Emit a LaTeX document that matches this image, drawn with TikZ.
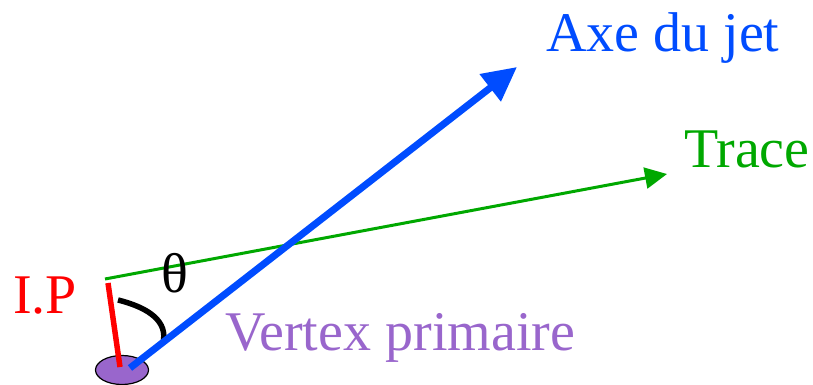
\documentclass[tikz,border=0pt]{standalone}
\usepackage{fontspec}
\setmainfont{Liberation Serif}
\usepackage{tikz}
\usetikzlibrary{arrows.meta,shapes.geometric}
\definecolor{Jline}{HTML}{004CFF}
\definecolor{Tline}{HTML}{00A800}
\definecolor{Iline}{HTML}{FF0000}
\definecolor{Vfill}{HTML}{9966CC}

\begin{document}
\begin{tikzpicture}[x=1pt,y=-1pt,line join=round]
\useasboundingbox (0,0) rectangle (813,385);
\tikzset{lbl/.style={anchor=base west,inner sep=0pt,font=\fontsize{56}{60}\selectfont}}

% ---- primary vertex ----
\node[ellipse,draw=black,line width=1.2pt,fill=Vfill,minimum width=53,minimum height=29,inner sep=0pt] (vtx) at (122,370) {};

% ---- end points ----
\coordinate (jetstart) at (130,368);
\coordinate (jettip)   at (517,67);
\coordinate (trkstart) at (105,279);
\coordinate (trktip)   at (667,174);
\coordinate (ipa)      at (108,283);
\coordinate (ipb)      at (120,367);
\coordinate (anga)     at (118,300);
\coordinate (angb)     at (163,343);

% ---- impact parameter and angle ----
\draw[Iline,line width=5.5pt] (ipa) -- (ipb);
\draw[black,line width=5.5pt] (anga) .. controls (150,308) and (168,322) .. (angb);

% ---- track and jet axis ----
\draw[Tline,line width=3pt,-{Triangle[length=22pt,width=21pt]}] (trkstart) -- (trktip);
\draw[Jline,line width=7pt,-{Triangle[length=34pt,width=33pt]}] (jetstart) -- (jettip);

% ---- labels ----
\node[lbl,text=Jline] (axe)    at (546,52)  {Axe du jet};
\node[lbl,text=Tline] (trace)  at (684,167) {Trace};
\node[lbl,text=Iline] (ip)     at (13,313)  {I.P};
\node[lbl,text=Vfill] (vertex) at (225,350) {Vertex primaire};
\node[lbl,text=black] (theta)  at (161,292) {θ};
\end{tikzpicture}
\end{document}
